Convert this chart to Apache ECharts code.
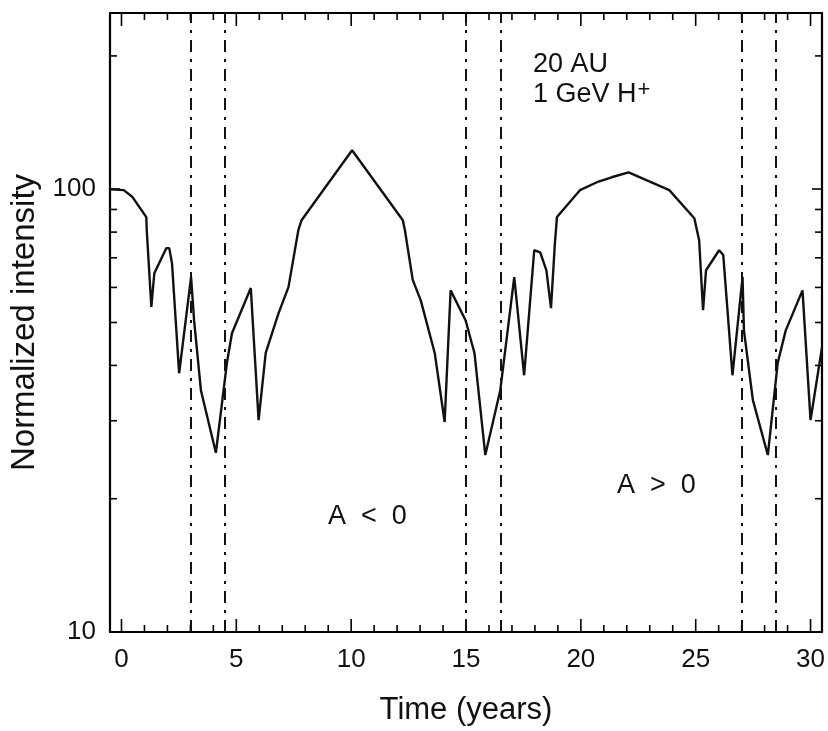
<!DOCTYPE html>
<html>
<head>
<meta charset="utf-8">
<script src="https://cdn.jsdelivr.net/npm/echarts@6/dist/echarts.min.js"></script>
<style>
  html, body { margin: 0; padding: 0; background: #fff; }
  #main { width: 828px; height: 731px; }
</style>
</head>
<body>
<div id="main"></div>
<script>
// normalized intensity vs time
var timeYears = [-0.5, 0.1, 0.48, 1.08, 1.1, 1.3, 1.43, 1.95, 2.08, 2.2, 2.51, 3.03, 3.16, 3.46, 4.11,
  4.59, 4.81, 5.63, 5.97, 6.28, 6.84, 7.27, 7.7, 7.84, 10.04, 12.25, 12.34, 12.68, 13.03, 13.64, 14.07,
  14.33, 14.98, 15.37, 15.84, 16.49, 17.1, 17.53, 17.97, 18.23, 18.5, 18.7, 18.87, 18.96, 19.96,
  20.7, 21.34, 22.08, 23.85, 24.94, 25.15, 25.32, 25.45, 26.02, 26.2, 26.6, 27.04, 27.1, 27.49,
  28.14, 28.57, 28.92, 29.65, 30.0, 30.5];
var intensity = [100, 99.5, 96, 86.5, 80.8, 54.2, 64.6, 73.6, 73.6, 68, 38.4, 63.3, 50.6, 35.1, 25.4,
  40.5, 47.3, 59.8, 30.1, 42.7, 52.5, 60.1, 80.8, 85.1, 122.5, 85.1, 80.8, 62.4, 56.1, 42.6, 29.8,
  59.1, 50.6, 42.6, 25.1, 35.1, 63.3, 38.0, 72.8, 72, 65.6, 53.9, 75.5, 86.5, 99.5,
  103.7, 106.4, 109.2, 99.5, 86, 76.7, 53.3, 65.6, 72.8, 71, 38, 63.3, 48, 33.4,
  25.1, 40.5, 48, 59.1, 30.1, 44];

// dash-dot verticals
var markerYears = [3, 4.5, 15, 16.5, 27, 28.5];

var xMajorTicks = [0, 5, 10, 15, 20, 25, 30];
var xMinorTicks = [1, 2, 3, 4, 6, 7, 8, 9, 11, 12, 13, 14, 16, 17, 18, 19, 21, 22, 23, 24, 26, 27, 28, 29];
var yMinorTicks = [20, 30, 40, 50, 60, 70, 80, 90, 200];

var X_MIN = -0.5, X_MAX = 30.5, Y_MIN = 10, Y_MAX = 250;
var FONT = '"Liberation Sans", Arial, sans-serif';

var chart = echarts.init(document.getElementById('main'));

function yAxisBox(pos, labels) {
  return {
    type: 'log', position: pos, min: Y_MIN, max: Y_MAX, logBase: 10,
    axisLine: { show: true, onZero: false, lineStyle: { color: '#000', width: 2.2 } },
    axisTick: { show: true, inside: true, length: 10, lineStyle: { color: '#000', width: 1.6 } },
    axisLabel: labels ? {
      show: true, margin: 14, color: '#111', fontSize: 26, fontFamily: FONT,
      formatter: function (v) { return (Math.abs(v - 10) < 1e-6 || Math.abs(v - 100) < 1e-6) ? String(Math.round(v)) : ''; }
    } : { show: false },
    splitLine: { show: false }
  };
}

// tick marks drawn through the axis scales (bottom + top frame)
function xTickSeries(values, len) {
  return {
    type: 'custom', xAxisIndex: 0, yAxisIndex: 0, silent: true, clip: false,
    data: values,
    renderItem: function (params, api) {
      var v = api.value(0);
      var b = api.coord([v, Y_MIN]);
      var t = api.coord([v, Y_MAX]);
      return {
        type: 'group',
        children: [
          { type: 'line', shape: { x1: b[0], y1: b[1], x2: b[0], y2: b[1] - len }, style: { stroke: '#000', lineWidth: 1.6 } },
          { type: 'line', shape: { x1: t[0], y1: t[1], x2: t[0], y2: t[1] + len }, style: { stroke: '#000', lineWidth: 1.6 } }
        ]
      };
    }
  };
}

chart.setOption({
  backgroundColor: '#fff',
  animation: false,
  grid: { left: 110, right: 1, top: 13, bottom: 99, containLabel: false },
  xAxis: [
    {
      type: 'value', position: 'bottom', min: X_MIN, max: X_MAX,
      name: 'Time (years)', nameLocation: 'middle', nameGap: 63,
      nameTextStyle: { fontSize: 31, color: '#111', fontFamily: FONT },
      axisLine: { show: true, onZero: false, lineStyle: { color: '#000', width: 2.2 } },
      axisTick: { show: false },
      axisLabel: { show: true, customValues: xMajorTicks, margin: 15, color: '#111', fontSize: 26, fontFamily: FONT },
      splitLine: { show: false }
    },
    {
      type: 'value', position: 'top', min: X_MIN, max: X_MAX,
      axisLine: { show: true, onZero: false, lineStyle: { color: '#000', width: 2.2 } },
      axisTick: { show: false }, axisLabel: { show: false }, splitLine: { show: false }
    }
  ],
  yAxis: [
    Object.assign(yAxisBox('left', true), {
      name: 'Normalized intensity', nameLocation: 'middle', nameGap: 56,
      nameTextStyle: { fontSize: 33, color: '#111', fontFamily: FONT }
    }),
    yAxisBox('right', false)
  ],
  graphic: [
    { type: 'text', x: 533, y: 65, style: { text: '20 AU', font: '27px ' + FONT, fill: '#111', verticalAlign: 'middle' } },
    { type: 'text', x: 533, y: 95, style: {
        text: '1 GeV H{sup|+}', font: '27px ' + FONT, fill: '#111', verticalAlign: 'middle',
        rich: { sup: { fontSize: 22, fontFamily: FONT, verticalAlign: 'top', padding: [0, 0, 10, 1] } } } },
    { type: 'text', x: 328, y: 517, style: { text: 'A  <  0', font: '27px ' + FONT, fill: '#111', verticalAlign: 'middle' } },
    { type: 'text', x: 617, y: 486, style: { text: 'A  >  0', font: '27px ' + FONT, fill: '#111', verticalAlign: 'middle' } }
  ],
  series: [
    {
      type: 'line',
      xAxisIndex: 0, yAxisIndex: 0,
      data: timeYears.map(function (t, i) { return [t, intensity[i]]; }),
      showSymbol: false,
      smooth: false,
      clip: true,
      lineStyle: { color: '#111', width: 2.4 },
      markLine: {
        silent: true, symbol: 'none',
        label: { show: false },
        lineStyle: { color: '#111', width: 2, type: [12, 7, 3, 7] },
        data: markerYears.map(function (x) { return { xAxis: x }; })
      }
    },
    xTickSeries(xMajorTicks, 13),
    xTickSeries(xMinorTicks, 7),
    {
      // minor ticks on the log axes (left and right frame)
      type: 'custom',
      xAxisIndex: 0, yAxisIndex: 0,
      silent: true, clip: false,
      data: yMinorTicks,
      renderItem: function (params, api) {
        var v = api.value(0);
        var l = api.coord([X_MIN, v]);
        var r = api.coord([X_MAX, v]);
        return {
          type: 'group',
          children: [
            { type: 'line', shape: { x1: l[0], y1: l[1], x2: l[0] + 7, y2: l[1] }, style: { stroke: '#000', lineWidth: 1.6 } },
            { type: 'line', shape: { x1: r[0], y1: r[1], x2: r[0] - 7, y2: r[1] }, style: { stroke: '#000', lineWidth: 1.6 } }
          ]
        };
      }
    }
  ]
});
</script>
</body>
</html>
